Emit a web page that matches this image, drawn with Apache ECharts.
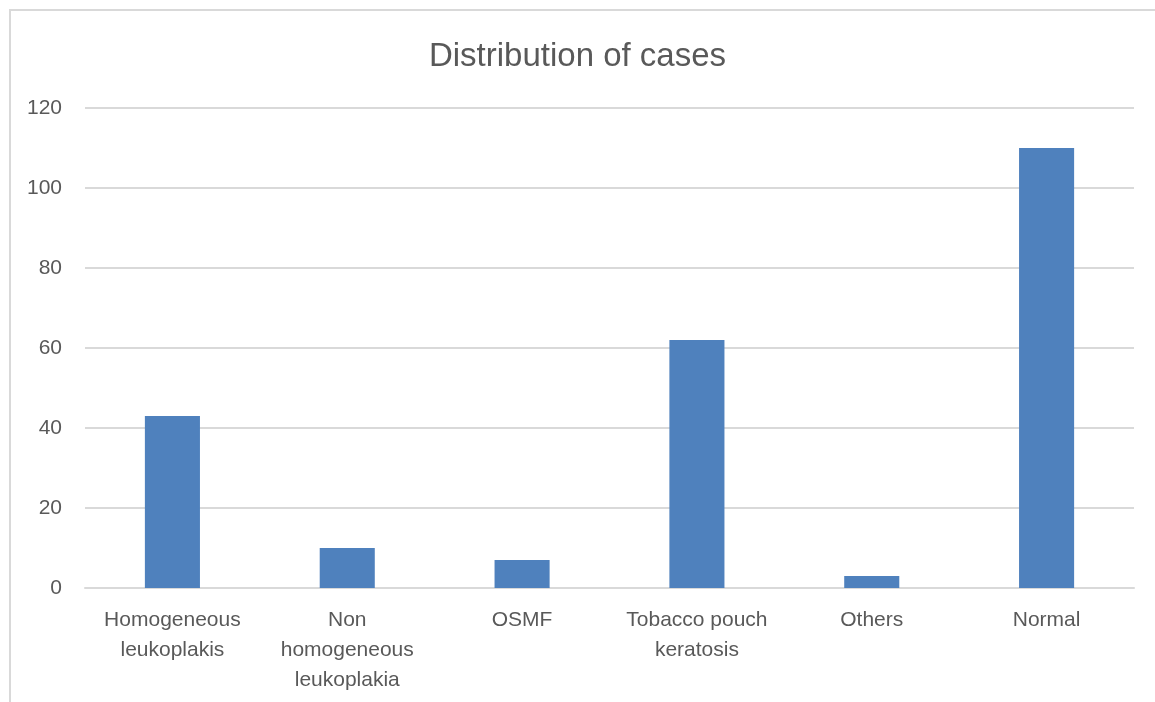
<!DOCTYPE html>
<html>
<head>
<meta charset="utf-8">
<script src="https://cdn.jsdelivr.net/npm/echarts@6/dist/echarts.min.js"></script>
<style>
  html, body { margin: 0; padding: 0; background: #fff; }
  #frame { position: absolute; left: 9px; top: 9px; width: 1146px; height: 693px;
           border-left: 2px solid #d9d9d9; border-top: 2px solid #d9d9d9; box-sizing: border-box; }
  #chart { position: absolute; left: 0; top: 0; width: 1155px; height: 702px; }
</style>
</head>
<body>
<div id="frame"></div>
<div id="chart"></div>
<script>
const categories = ['Homogeneous\nleukoplakis', 'Non\nhomogeneous\nleukoplakia', 'OSMF',
  'Tobacco pouch\nkeratosis', 'Others', 'Normal'];
const cases = [43, 10, 7, 62, 3, 110];
const yTicks = { min: 0, max: 120, interval: 20 };

const chart = echarts.init(document.getElementById('chart'));
const font = 'Liberation Sans';

chart.setOption({
  backgroundColor: 'transparent',
  animation: false,
  title: {
    text: 'Distribution of cases',
    left: 'center',
    top: 35,
    textStyle: { fontFamily: font, fontSize: 33, fontWeight: 'normal', color: '#595959' }
  },
  grid: { left: 85, right: 21, top: 108, bottom: 114, containLabel: false },
  xAxis: {
    type: 'category',
    data: categories,
    axisLine: { lineStyle: { color: '#d9d9d9', width: 2 } },
    axisTick: { show: false },
    axisLabel: { fontFamily: font, fontSize: 21, color: '#595959', lineHeight: 30, margin: 17, interval: 0 }
  },
  yAxis: {
    type: 'value',
    min: yTicks.min,
    max: yTicks.max,
    interval: yTicks.interval,
    axisLine: { show: false },
    axisTick: { show: false },
    splitLine: { lineStyle: { color: '#d9d9d9', width: 2 } },
    axisLabel: { fontFamily: font, fontSize: 21, color: '#595959', margin: 23 }
  },
  series: [{
    type: 'bar',
    data: cases,
    barWidth: '31.5%',
    itemStyle: { color: '#4f81bd' }
  }]
});
</script>
</body>
</html>
